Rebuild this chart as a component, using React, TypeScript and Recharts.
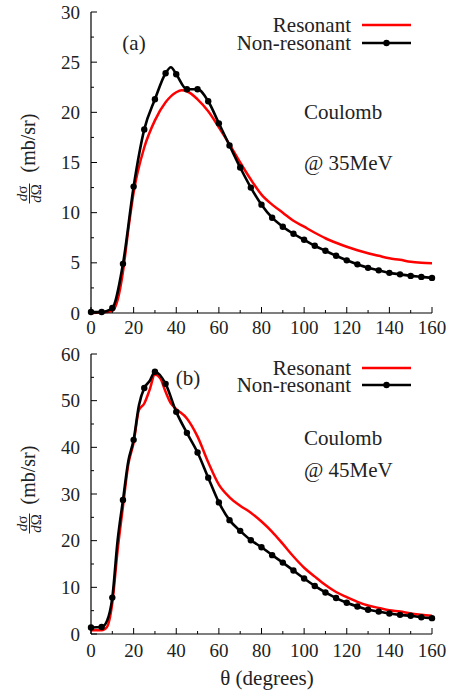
import { LineChart, Line, XAxis, YAxis } from 'recharts'

// panel (a) Coulomb @ 35 MeV
const nonResThetaA = [0, 5, 10, 15, 20, 25, 30, 35, 37.5, 40, 45, 50, 55, 60, 65, 70, 75, 80, 85, 90, 95, 100, 105, 110, 115, 120, 125, 130, 135, 140, 145, 150, 155, 160]
const nonResA = [0.1, 0.1, 0.5, 4.9, 12.6, 18.3, 21.3, 23.9, 24.5, 23.8, 22.3, 22.3, 21.1, 18.9, 16.7, 14.5, 12.5, 10.8, 9.5, 8.6, 7.9, 7.3, 6.7, 6.2, 5.7, 5.25, 4.85, 4.5, 4.25, 4.0, 3.85, 3.7, 3.6, 3.5]
const resThetaA = [0, 5, 10, 12.5, 15, 17.5, 20, 25, 30, 35, 40, 42.5, 45, 50, 55, 60, 65, 70, 75, 80, 85, 90, 95, 100, 105, 110, 115, 120, 125, 130, 135, 140, 145, 150, 155, 160]
const resA = [0.0, 0.05, 0.2, 1.3, 4.1, 8.3, 12.0, 16.5, 19.2, 21.0, 22.0, 22.2, 22.1, 21.3, 20.1, 18.5, 16.8, 15.0, 13.3, 11.8, 10.8, 10.0, 9.2, 8.6, 8.0, 7.45, 7.0, 6.6, 6.25, 5.95, 5.7, 5.45, 5.3, 5.1, 5.0, 4.95]

// panel (b) Coulomb @ 45 MeV
const nonResThetaB = [0, 5, 7.5, 10, 12.5, 15, 17.5, 20, 22.5, 25, 27.5, 30, 35, 40, 45, 50, 55, 60, 65, 70, 75, 80, 85, 90, 95, 100, 105, 110, 115, 120, 125, 130, 135, 140, 145, 150, 155, 160]
const nonResB = [1.4, 1.5, 2.8, 7.8, 20.1, 28.7, 37.0, 41.6, 49.0, 52.7, 54.2, 56.2, 53.6, 47.6, 43.1, 38.9, 33.5, 28.2, 24.4, 22.1, 20.1, 18.6, 16.9, 15.3, 13.6, 11.9, 10.3, 8.9, 7.7, 6.7, 5.9, 5.2, 4.8, 4.4, 4.1, 3.9, 3.6, 3.4]
const resThetaB = [0, 5, 7.5, 10, 12.5, 15, 17.5, 20, 22.5, 25, 27.5, 30, 32.5, 35, 37.5, 40, 45, 50, 55, 60, 65, 70, 75, 80, 85, 90, 95, 100, 105, 110, 115, 120, 125, 130, 135, 140, 145, 150, 155, 160]
const resB = [0.8, 0.8, 1.5, 6.6, 18.0, 27.3, 36.3, 41.0, 48.0, 49.4, 52.3, 55.6, 54.8, 51.9, 49.4, 48.2, 46.2, 42.3, 36.8, 32.0, 29.3, 27.5, 26.0, 24.1, 21.9, 19.3, 16.6, 14.2, 12.3, 10.5, 9.0, 7.9, 6.9, 6.1, 5.6, 5.1, 4.8, 4.4, 4.1, 3.9]

const xTicks = [0, 10, 20, 30, 40, 50, 60, 70, 80, 90, 100, 110, 120, 130, 140, 150, 160]
const yTicksA = [0, 2.5, 5, 7.5, 10, 12.5, 15, 17.5, 20, 22.5, 25, 27.5, 30]
const yTicksB = [0, 5, 10, 15, 20, 25, 30, 35, 40, 45, 50, 55, 60]

const FONT = "'Liberation Serif', 'Times New Roman', Times, serif"
const TXT = '#222'
const serif = { fontFamily: FONT }

const zip = (xs: number[], ys: number[]) => xs.map((theta, i) => ({ theta, v: ys[i] }))

function makeTick(side: 'bottom' | 'left' | 'top' | 'right', majorEvery: number, gap: number) {
  return (p: any) => {
    const { x, y, payload } = p
    const major = Math.abs(payload.value % majorEvery) < 1e-6
    const len = major ? 6 : 3
    let line
    if (side === 'bottom') line = <line x1={x} y1={y} x2={x} y2={y - len} stroke="#000" />
    else if (side === 'top') line = <line x1={x} y1={y} x2={x} y2={y + len} stroke="#000" />
    else if (side === 'left') line = <line x1={x} y1={y} x2={x + len} y2={y} stroke="#000" />
    else line = <line x1={x} y1={y} x2={x - len} y2={y} stroke="#000" />
    let label = null
    if (major && side === 'bottom')
      label = (
        <text x={x} y={y + gap} dy="0.71em" textAnchor="middle" style={serif} fontSize={19} fill={TXT}>
          {payload.value}
        </text>
      )
    if (major && side === 'left')
      label = (
        <text x={x - gap} y={y} dy="0.35em" textAnchor="end" style={serif} fontSize={19} fill={TXT}>
          {payload.value}
        </text>
      )
    return (
      <g>
        {line}
        {label}
      </g>
    )
  }
}

const markerDot = (p: any) => {
  const { cx, cy, payload, index } = p
  if (payload.theta % 5 !== 0) return <g key={'d' + index} />
  return <circle key={'d' + index} cx={cx} cy={cy} r={3.2} fill="#000" />
}

function Panel({ res, nonRes, yMax, yTicks, yMajor, height, top, plotH, gap }: any) {
  return (
    <LineChart width={458} height={height} margin={{ top, right: 26, left: 0, bottom: 0 }}>
      <XAxis
        type="number"
        dataKey="theta"
        domain={[0, 160]}
        ticks={xTicks}
        interval={0}
        height={height - top - plotH}
        tickSize={0}
        tickMargin={0}
        axisLine={{ stroke: '#000', strokeWidth: 1.2 }}
        tick={makeTick('bottom', 20, gap)}
      />
      <XAxis
        xAxisId="top"
        orientation="top"
        type="number"
        dataKey="theta"
        domain={[0, 160]}
        ticks={xTicks}
        interval={0}
        height={0}
        tickSize={0}
        tickMargin={0}
        axisLine={{ stroke: '#000', strokeWidth: 1.2 }}
        tick={makeTick('top', 20, 0)}
      />
      <YAxis
        type="number"
        domain={[0, yMax]}
        ticks={yTicks}
        interval={0}
        width={91}
        tickSize={0}
        tickMargin={0}
        axisLine={{ stroke: '#000', strokeWidth: 1.2 }}
        tick={makeTick('left', yMajor, 11)}
      />
      <YAxis
        yAxisId="right"
        orientation="right"
        type="number"
        domain={[0, yMax]}
        ticks={yTicks}
        interval={0}
        width={0}
        tickSize={0}
        tickMargin={0}
        axisLine={{ stroke: '#000', strokeWidth: 1.2 }}
        tick={makeTick('right', yMajor, 0)}
      />
      <Line
        data={res}
        xAxisId="top"
        yAxisId="right"
        dataKey="v"
        type="monotone"
        stroke="#ff0000"
        strokeWidth={2.5}
        dot={false}
        isAnimationActive={false}
      />
      <Line
        data={nonRes}
        dataKey="v"
        type="monotone"
        stroke="#000"
        strokeWidth={2.6}
        dot={markerDot}
        isAnimationActive={false}
      />
    </LineChart>
  )
}

function YLabel({ cx, unitCy, fracCy }: { cx: number; unitCy: number; fracCy: number }) {
  return (
    <g style={serif} fill={TXT}>
      <text transform={`translate(${cx},${unitCy}) rotate(-90)`} textAnchor="middle" dy="0.33em" fontSize={20}>
        (mb/sr)
      </text>
      <g transform={`translate(${cx + 1.5},${fracCy}) rotate(-90)`} fontSize={15}>
        <text x={0} y={-2.5} textAnchor="middle">
          <tspan fontStyle="italic">d</tspan>σ
        </text>
        <line x1={-10} y1={0} x2={10} y2={0} stroke={TXT} strokeWidth={1} />
        <text x={0} y={11.5} textAnchor="middle">
          <tspan fontStyle="italic">d</tspan>Ω
        </text>
      </g>
    </g>
  )
}

function LegendBox({ y1, y2 }: { y1: number; y2: number }) {
  return (
    <g style={serif} fontSize={21} fill={TXT}>
      <text x={351} y={y1} dy="0.33em" textAnchor="end">Resonant</text>
      <line x1={362} y1={y1} x2={411} y2={y1} stroke="#ff0000" strokeWidth={2.5} />
      <text x={351} y={y2} dy="0.33em" textAnchor="end">Non-resonant</text>
      <line x1={362} y1={y2} x2={411} y2={y2} stroke="#000" strokeWidth={2.6} />
      <circle cx={386.5} cy={y2} r={3.2} fill="#000" />
    </g>
  )
}

export default function App() {
  return (
    <div style={{ position: 'absolute', left: 0, top: 0, width: 458, height: 693, background: '#fff' }}>
      <div style={{ position: 'absolute', left: 0, top: 0 }}>
        <Panel
          res={zip(resThetaA, resA)}
          nonRes={zip(nonResThetaA, nonResA)}
          yMax={30}
          yTicks={yTicksA}
          yMajor={5}
          height={340}
          top={12}
          plotH={301}
          gap={8}
        />
      </div>
      <div style={{ position: 'absolute', left: 0, top: 340 }}>
        <Panel
          res={zip(resThetaB, resB)}
          nonRes={zip(nonResThetaB, nonResB)}
          yMax={60}
          yTicks={yTicksB}
          yMajor={10}
          height={353}
          top={14}
          plotH={280}
          gap={10}
        />
      </div>
      <svg
        width={458}
        height={693}
        style={{ position: 'absolute', left: 0, top: 0, pointerEvents: 'none' }}
      >
        <LegendBox y1={25} y2={43} />
        <LegendBox y1={368} y2={385} />
        <g style={serif} fontSize={21} fill={TXT}>
          <text x={134} y={43} dy="0.33em" textAnchor="middle">(a)</text>
          <text x={188} y={378} dy="0.33em" textAnchor="middle">(b)</text>
          <text x={304} y={112} dy="0.33em">Coulomb</text>
          <text x={304} y={163} dy="0.33em">@ 35MeV</text>
          <text x={304} y={438} dy="0.33em">Coulomb</text>
          <text x={304} y={470} dy="0.33em">@ 45MeV</text>
          <text x={267} y={678} dy="0.33em" textAnchor="middle">θ (degrees)</text>
        </g>
        <YLabel cx={28} unitCy={143} fracCy={193.5} />
        <YLabel cx={28} unitCy={475} fracCy={523.5} />
      </svg>
    </div>
  )
}
